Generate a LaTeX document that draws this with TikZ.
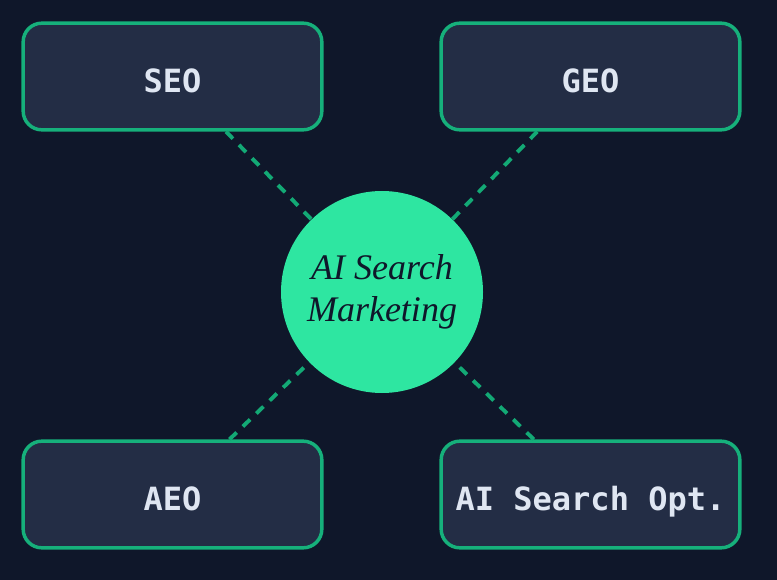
\documentclass[tikz,border=0pt]{standalone}
\usepackage{fontspec}
\setmonofont{DejaVu Sans Mono}
\newfontfamily\hubfont{Liberation Serif}
\usepackage{tikz}
\usetikzlibrary{positioning}

\definecolor{bgdark}{HTML}{0F172A}
\definecolor{cardfill}{HTML}{232D45}
\definecolor{cardline}{HTML}{16B07B}
\definecolor{cardtext}{HTML}{DFE6F2}
\definecolor{hubfill}{HTML}{2EE6A1}
\definecolor{linkcolor}{HTML}{13A975}

\begin{document}
\begin{tikzpicture}[
    x=0.75pt, y=-0.75pt,
    card/.style={draw=cardline, fill=cardfill, rectangle, minimum width=224pt, minimum height=80pt, line width=2.6pt, rounded corners=14pt, text=cardtext, font=\ttfamily\bfseries\fontsize{24}{28}\selectfont, text height=23.5pt, text depth=0pt},
    hub/.style={circle, fill=hubfill, minimum size=151.5pt, inner sep=0pt, align=center, text=bgdark, font=\hubfont\itshape\fontsize{27}{32}\selectfont},
    link/.style={line width=2.9pt, dash pattern=on 7.5pt off 6.5pt, linkcolor}
]
\fill[bgdark] (0,0) rectangle (777,580);
\useasboundingbox (0,0) rectangle (777,580);

\node[hub] (hub) at (382,292) {AI Search\\Marketing};
\node[card] (seo) at (172.5,76.5) {SEO};
\node[card] (geo) at (590.5,76.5) {GEO};
\node[card] (aeo) at (172.5,494.5) {AEO};
\node[card] (aiso) at (590.5,494.5) {AI Search Opt.};

\draw[link] (seo) -- (hub);
\draw[link] (geo) -- (hub);
\draw[link] (aeo) -- (hub);
\draw[link] (aiso) -- (hub);
\end{tikzpicture}
\end{document}
